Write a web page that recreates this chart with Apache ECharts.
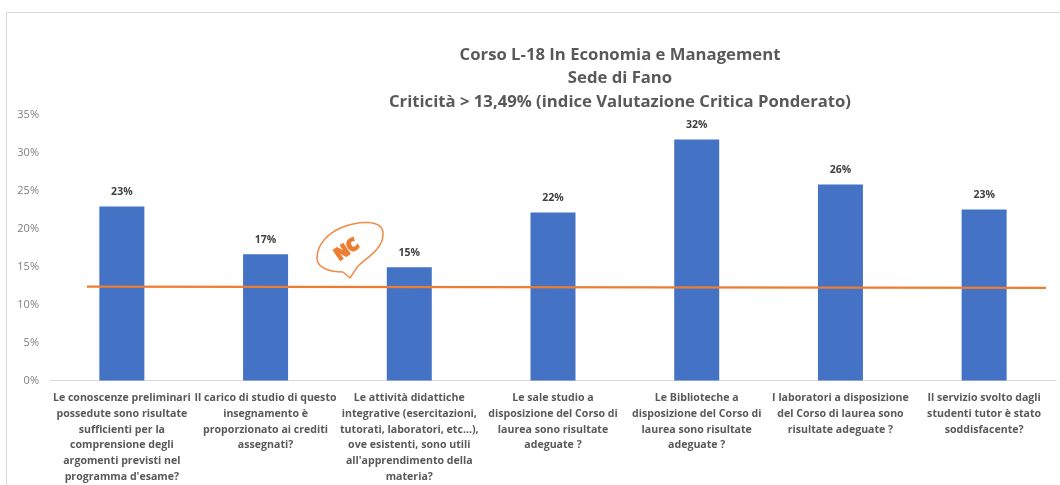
<!DOCTYPE html>
<html><head><meta charset="utf-8">
<style>html,body{margin:0;padding:0;background:#fff}#c{width:1060px;height:485px}</style>
<script src="https://cdn.jsdelivr.net/npm/echarts@6/dist/echarts.min.js"></script></head>
<body><div id="c"></div>
<script>
const categories = [
"Le conoscenze preliminari\npossedute sono risultate\nsufficienti per la\ncomprensione degli\nargomenti previsti nel\nprogramma d'esame?",
"Il carico di studio di questo\ninsegnamento è\nproporzionato ai crediti\nassegnati?",
"Le attività didattiche\nintegrative (esercitazioni,\ntutorati, laboratori, etc...),\nove esistenti, sono utili\nall'apprendimento della\nmateria?",
"Le sale studio a\ndisposizione del Corso di\nlaurea sono risultate\nadeguate ?",
"Le Biblioteche a\ndisposizione del Corso di\nlaurea sono risultate\nadeguate ?",
"I laboratori a disposizione\ndel Corso di laurea sono\nrisultate adeguate ?",
"Il servizio svolto dagli\nstudenti tutor è stato\nsoddisfacente?"];
const values = [22.9,16.6,14.9,22.1,31.7,25.8,22.5];
const thresholdX = [0.257,6.93];
const thresholdY = [12.35,12.2];
const titleLines = "Corso L-18 In Economia e Management\nSede di Fano\nCriticità > 13,49% (indice Valutazione Critica Ponderato)";
const font = "Open Sans";
const bubble = {stroke:'#f08a45',fill:'none',lineWidth:1.5};
const curve = (x1,y1,cpx1,cpy1,cpx2,cpy2,x2,y2)=>({type:'bezierCurve',silent:true,z:10,shape:{x1,y1,cpx1,cpy1,cpx2,cpy2,x2,y2},style:bubble});
const chart = echarts.init(document.getElementById('c'));
chart.setOption({
 animation:false,
 backgroundColor:'#fff',
 title:{text:titleLines,left:615,top:38,textAlign:'center',textStyle:{fontFamily:font,fontSize:16.7,fontWeight:'bold',color:'#595959',lineHeight:23.5,align:'center'}},
 grid:{left:50,right:4,top:114.5,bottom:104.5},
 xAxis:[
  {type:'category',data:categories,axisTick:{show:false},axisLine:{lineStyle:{color:'#d9d9d9',width:1}},
   axisLabel:{interval:0,fontFamily:font,fontSize:10.6,fontWeight:'bold',color:'#595959',lineHeight:15.7,margin:10,align:'center',verticalAlign:'top'}},
  {type:'value',min:0,max:7,show:false}
 ],
 yAxis:{type:'value',min:0,max:35,interval:5,splitLine:{show:false},axisLine:{show:false},axisTick:{show:false},
  axisLabel:{formatter:'{value}%',fontFamily:font,fontSize:11,color:'#7f7f7f',margin:11}},
 series:[
  {type:'bar',data:values,barWidth:45,itemStyle:{color:'#4472c4'},
   label:{show:true,position:'top',distance:9,fontFamily:font,fontSize:10.5,fontWeight:700,color:'#404040',formatter:p=>Math.round(p.value)+'%'}},
  {type:'line',xAxisIndex:1,data:thresholdX.map((x,i)=>[x,thresholdY[i]]),symbol:'none',z:5,lineStyle:{color:'#ed7d31',width:2.2}}
 ],
 graphic:[
  {type:'rect',silent:true,z:-1,shape:{x:6.5,y:12.5,width:1060,height:480},style:{fill:'none',stroke:'#d9d9d9',lineWidth:1}},
  curve(343,272,330,272,317,268,317,258),
  curve(317,258,317,243,330,232,343,227),
  curve(343,227,358,221,382,219,383,233),
  curve(383,233,384,248,368,257,358,266),
  {type:'polyline',silent:true,z:10,shape:{points:[[358,266],[350,278],[343,272]]},style:bubble},
  {type:'text',silent:true,z:11,x:347,y:250,rotation:0.6,style:{text:'NC',fontFamily:font,fontSize:17,fontWeight:800,fill:'#ed7d31',stroke:'#ed7d31',lineWidth:1.5,align:'center',verticalAlign:'middle'}}
 ]
});
</script></body></html>
